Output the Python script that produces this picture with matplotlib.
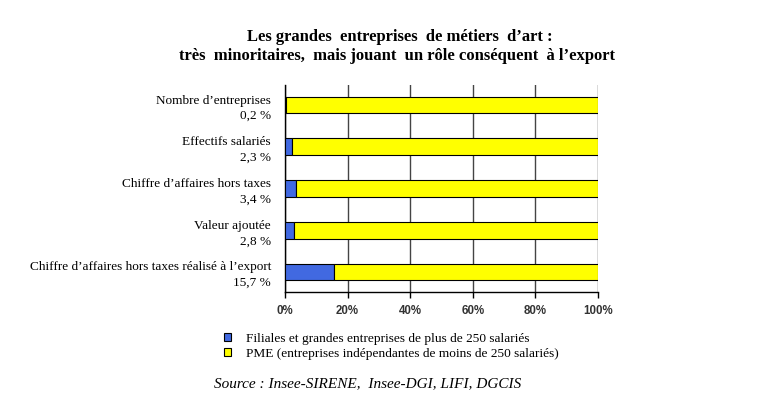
import matplotlib
matplotlib.use("Agg")
import matplotlib.pyplot as plt
from matplotlib.patches import Patch

categories = ["Nombre d’entreprises", "Effectifs salariés", "Chiffre d’affaires hors taxes",
              "Valeur ajoutée", "Chiffre d’affaires hors taxes réalisé à l’export"]
pct_labels = ["0,2 %", "2,3 %", "3,4 %", "2,8 %", "15,7 %"]
grandes = [0.2, 2.3, 3.4, 2.8, 15.7]
pme = [99.8, 97.7, 96.6, 97.2, 84.3]
xticks = [0, 20, 40, 60, 80, 100]
xtick_labels = ["0%", "20%", "40%", "60%", "80%", "100%"]
series_names = ["Filiales et grandes entreprises de plus de 250 salariés",
                "PME (entreprises indépendantes de moins de 250 salariés)"]

blue = "#4169E1"
yellow = "#FFFF00"
serif = ["Liberation Serif", "DejaVu Serif"]

fig = plt.figure(figsize=(7.83, 3.99), dpi=100)
ax = fig.add_axes([285/783, 1-292/399, (598-285)/783, (292-85)/399])

y = list(range(len(categories)))
ax.barh(y, grandes, height=0.4, color=blue, edgecolor="black", linewidth=0.8, zorder=3)
ax.barh(y, pme, left=grandes, height=0.4, color=yellow, edgecolor="black", linewidth=0.8, zorder=3)

ax.set_ylim(len(categories) - 0.52, -0.48)
ax.set_xlim(0, 100)
ax.set_yticks(y)
ax.set_yticklabels([f"{c}\n{p}" for c, p in zip(categories, pct_labels)],
                   fontfamily=serif, fontsize=9.5, multialignment="right", linespacing=1.4)
ax.tick_params(axis="y", length=0, pad=10)
ax.set_xticks(xticks)
ax.set_xticklabels(xtick_labels, fontfamily=["Liberation Sans", "DejaVu Sans"],
                   fontweight="bold", fontsize=8.3, color="#333333")
ax.tick_params(axis="x", length=4, width=1, direction="out", pad=5)
ax.xaxis.grid(True, color="#444444", linewidth=1, zorder=0)
ax.set_axisbelow(True)
for s in ["top", "right"]:
    ax.spines[s].set_visible(False)
ax.spines["left"].set_linewidth(1)
ax.spines["bottom"].set_linewidth(1)

fig.text(400/783, 1-37/399, "Les grandes  entreprises  de métiers  d’art :",
         ha="center", va="center", fontfamily=serif, fontweight="bold", fontsize=12)
fig.text(397/783, 1-56/399, "très  minoritaires,  mais jouant  un rôle conséquent  à l’export",
         ha="center", va="center", fontfamily=serif, fontweight="bold", fontsize=12)

handles = [Patch(facecolor=blue, edgecolor="black", linewidth=0.8),
           Patch(facecolor=yellow, edgecolor="black", linewidth=0.8)]
fig.legend(handles, series_names, loc="upper left", bbox_to_anchor=(224/783, 1-333/399),
           frameon=False, prop={"family": serif, "size": 9.6},
           handlelength=0.55, handleheight=0.55, handletextpad=1.1, labelspacing=0.2,
           borderaxespad=0, borderpad=0)

fig.text(214/783, 1-384/399, "Source : Insee-SIRENE,  Insee-DGI, LIFI, DGCIS",
         ha="left", va="center", fontfamily=serif, fontstyle="italic", fontsize=11)

fig.savefig("out.png", dpi=100)
